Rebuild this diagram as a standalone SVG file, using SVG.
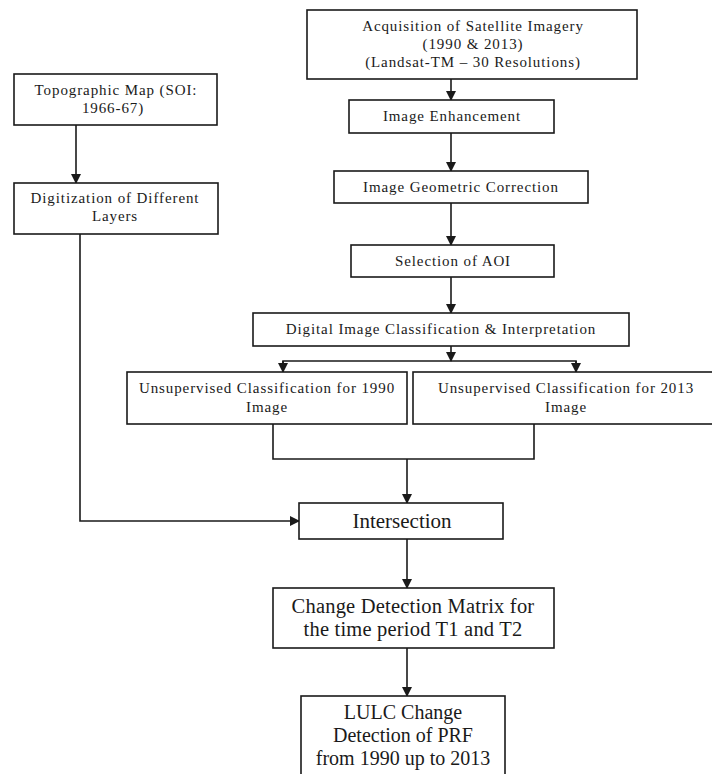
<svg xmlns="http://www.w3.org/2000/svg" width="712" height="774" viewBox="0 0 712 774">
<style>
  .box { fill: #ffffff; stroke: #1a1a1a; stroke-width: 1.6; }
  .t { fill: #1a1a1a; text-anchor: middle; }
  .s { font-size: 15px; letter-spacing: 0.9px; }
  .m { font-size: 21px; }
  .l { font-size: 20px; }
  .l2 { font-size: 20.5px; letter-spacing: 0.2px; }
  .c { fill: none; stroke: #1a1a1a; stroke-width: 1.6; }
</style>
<defs>
  <marker id="ah" markerWidth="10" markerHeight="10" refX="9" refY="5" orient="auto" markerUnits="userSpaceOnUse">
    <path d="M0,0 L10,5 L0,10 z" fill="#1a1a1a"/>
  </marker>
</defs>
<rect width="712" height="774" fill="#ffffff"/>
<g id="connectors">
  <line class="c" x1="451" y1="79" x2="451" y2="100" marker-end="url(#ah)"/>
  <line class="c" x1="451" y1="133" x2="451" y2="171" marker-end="url(#ah)"/>
  <line class="c" x1="451" y1="203" x2="451" y2="245" marker-end="url(#ah)"/>
  <line class="c" x1="451" y1="277" x2="451" y2="313" marker-end="url(#ah)"/>
  <line class="c" x1="451" y1="346" x2="451" y2="361" marker-end="url(#ah)"/>
  <polyline class="c" points="283,372 283,361 576,361 576,372"/>
  <line class="c" x1="283" y1="361" x2="283" y2="372" marker-end="url(#ah)"/>
  <line class="c" x1="576" y1="361" x2="576" y2="372" marker-end="url(#ah)"/>
  <polyline class="c" points="273,424 273,459 534,459 534,424"/>
  <line class="c" x1="407" y1="459" x2="407" y2="503" marker-end="url(#ah)"/>
  <line class="c" x1="76" y1="125" x2="76" y2="183" marker-end="url(#ah)"/>
  <polyline class="c" points="80,234 80,521 299,521" marker-end="url(#ah)"/>
  <line class="c" x1="407" y1="539" x2="407" y2="588" marker-end="url(#ah)"/>
  <line class="c" x1="407" y1="648" x2="407" y2="696" marker-end="url(#ah)"/>
</g>
<g font-family="'Liberation Serif', 'DejaVu Serif', 'Times New Roman', serif">
<g id="acquisition">
  <rect class="box" x="307" y="10" width="330" height="69"/>
  <text class="t s" x="473" y="31">Acquisition of Satellite Imagery</text>
  <text class="t s" x="473" y="49">(1990 &amp; 2013)</text>
  <text class="t s" x="473" y="67">(Landsat-TM – 30 Resolutions)</text>
</g>
<g id="enhancement">
  <rect class="box" x="349" y="100" width="205" height="33"/>
  <text class="t s" x="452" y="121">Image Enhancement</text>
</g>
<g id="geometric">
  <rect class="box" x="334" y="171" width="254" height="32"/>
  <text class="t s" x="461" y="192">Image Geometric Correction</text>
</g>
<g id="aoi">
  <rect class="box" x="351" y="245" width="203" height="32"/>
  <text class="t s" x="453" y="266">Selection of AOI</text>
</g>
<g id="classification">
  <rect class="box" x="253" y="313" width="376" height="33"/>
  <text class="t s" x="441" y="334">Digital Image Classification &amp; Interpretation</text>
</g>
<g id="unsup1990">
  <rect class="box" x="127" y="372" width="280" height="52"/>
  <text class="t s" x="267" y="393">Unsupervised Classification for 1990</text>
  <text class="t s" x="267" y="412">Image</text>
</g>
<g id="unsup2013">
  <rect class="box" x="413" y="372" width="302" height="52"/>
  <text class="t s" x="566" y="393">Unsupervised Classification for 2013</text>
  <text class="t s" x="566" y="412">Image</text>
</g>
<g id="topographic">
  <rect class="box" x="14" y="74" width="203" height="51"/>
  <text class="t s" x="116" y="95">Topographic Map (SOI:</text>
  <text class="t s" x="113" y="113">1966-67)</text>
</g>
<g id="digitization">
  <rect class="box" x="14" y="183" width="204" height="51"/>
  <text class="t s" x="115" y="203">Digitization of Different</text>
  <text class="t s" x="115" y="221">Layers</text>
</g>
<g id="intersection">
  <rect class="box" x="299" y="503" width="204" height="36"/>
  <text class="t m" x="402" y="528">Intersection</text>
</g>
<g id="changematrix">
  <rect class="box" x="273" y="588" width="281" height="60"/>
  <text class="t l2" x="413" y="613">Change Detection Matrix for</text>
  <text class="t l2" x="413" y="636">the time period T1 and T2</text>
</g>
<g id="lulc">
  <rect class="box" x="301" y="696" width="204" height="90"/>
  <text class="t l" x="403" y="719">LULC Change</text>
  <text class="t l" x="403" y="742">Detection of PRF</text>
  <text class="t l" x="403" y="765">from 1990 up to 2013</text>
</g>
</g>
</svg>
